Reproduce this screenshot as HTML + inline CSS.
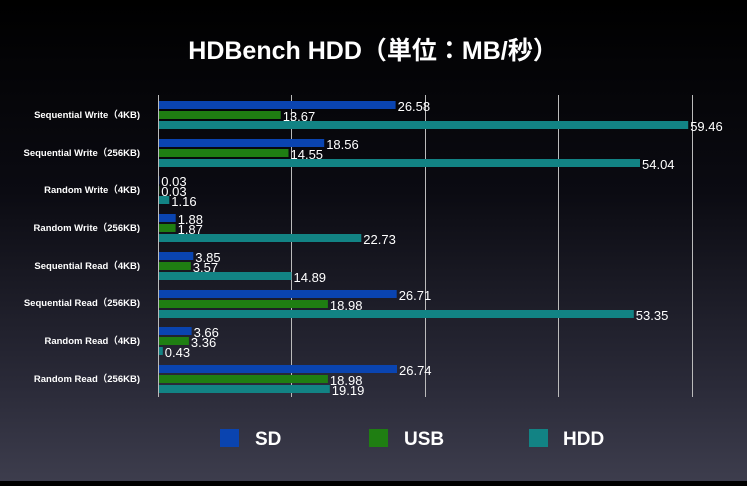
<!DOCTYPE html>
<html><head><meta charset="utf-8"><style>
html,body{margin:0;padding:0;}
body{width:747px;height:481px;overflow:hidden;background:linear-gradient(#000 0%,#0b0b12 40%,#2a2a38 80%,#3d3d4d 100%);}
</style></head><body>
<svg width="747" height="481" xmlns="http://www.w3.org/2000/svg" font-family="'Liberation Sans','Noto Sans CJK JP',sans-serif">
<text x="373" y="59" fill="#fff" font-size="25" font-weight="bold" text-anchor="middle">HDBench HDD（単位：MB/秒）</text>
<g stroke="#bbb" stroke-width="1">
<line x1="158.5" y1="95" x2="158.5" y2="397"/>
<line x1="291.5" y1="95" x2="291.5" y2="397"/>
<line x1="425.5" y1="95" x2="425.5" y2="397"/>
<line x1="558.5" y1="95" x2="558.5" y2="397"/>
<line x1="692.5" y1="95" x2="692.5" y2="397"/>
</g>
<g>
<rect x="159" y="101" width="236.6" height="8" fill="#0a44b0"/><rect x="159" y="111" width="121.7" height="8" fill="#1f7e12"/><rect x="159" y="121" width="529.2" height="8" fill="#128384"/>
<rect x="159" y="139" width="165.2" height="8" fill="#0a44b0"/><rect x="159" y="149" width="129.5" height="8" fill="#1f7e12"/><rect x="159" y="159" width="481" height="8" fill="#128384"/>
<rect x="159" y="176" width="0.3" height="8" fill="#0a44b0"/><rect x="159" y="186" width="0.3" height="8" fill="#1f7e12"/><rect x="159" y="196" width="10.3" height="8" fill="#128384"/>
<rect x="159" y="214" width="16.7" height="8" fill="#0a44b0"/><rect x="159" y="224" width="16.6" height="8" fill="#1f7e12"/><rect x="159" y="234" width="202.3" height="8" fill="#128384"/>
<rect x="159" y="252" width="34.3" height="8" fill="#0a44b0"/><rect x="159" y="262" width="31.8" height="8" fill="#1f7e12"/><rect x="159" y="272" width="132.5" height="8" fill="#128384"/>
<rect x="159" y="290" width="237.7" height="8" fill="#0a44b0"/><rect x="159" y="300" width="168.9" height="8" fill="#1f7e12"/><rect x="159" y="310" width="474.8" height="8" fill="#128384"/>
<rect x="159" y="327" width="32.6" height="8" fill="#0a44b0"/><rect x="159" y="337" width="29.9" height="8" fill="#1f7e12"/><rect x="159" y="347" width="3.8" height="8" fill="#128384"/>
<rect x="159" y="365" width="238" height="8" fill="#0a44b0"/><rect x="159" y="375" width="168.9" height="8" fill="#1f7e12"/><rect x="159" y="385" width="170.8" height="8" fill="#128384"/>
</g>
<g font-size="13" fill="#fff">
<text x="397.6" y="111">26.58</text><text x="282.7" y="121">13.67</text><text x="690.2" y="131">59.46</text>
<text x="326.2" y="149">18.56</text><text x="290.5" y="159">14.55</text><text x="642" y="169">54.04</text>
<text x="161.3" y="186">0.03</text><text x="161.3" y="196">0.03</text><text x="171.3" y="206">1.16</text>
<text x="177.7" y="224">1.88</text><text x="177.6" y="234">1.87</text><text x="363.3" y="244">22.73</text>
<text x="195.3" y="262">3.85</text><text x="192.8" y="272">3.57</text><text x="293.5" y="282">14.89</text>
<text x="398.7" y="300">26.71</text><text x="329.9" y="310">18.98</text><text x="635.8" y="320">53.35</text>
<text x="193.6" y="337">3.66</text><text x="190.9" y="347">3.36</text><text x="164.8" y="357">0.43</text>
<text x="399" y="375">26.74</text><text x="329.9" y="385">18.98</text><text x="331.8" y="395">19.19</text>
</g>
<g font-size="9.5" font-weight="bold" fill="#fff" text-anchor="end">
<text x="140" y="118">Sequential Write（4KB)</text>
<text x="140" y="156">Sequential Write（256KB)</text>
<text x="140" y="193">Random Write（4KB)</text>
<text x="140" y="231">Random Write（256KB)</text>
<text x="140" y="269">Sequential Read（4KB)</text>
<text x="140" y="306">Sequential Read（256KB)</text>
<text x="140" y="344">Random Read（4KB)</text>
<text x="140" y="382">Random Read（256KB)</text>
</g>
<rect x="220" y="429" width="19" height="18" fill="#0a44b0"/>
<rect x="369" y="429" width="19" height="18" fill="#1f7e12"/>
<rect x="529" y="429" width="19" height="18" fill="#128384"/>
<g fill="#fff" font-size="19" font-weight="bold">
<text x="255" y="445">SD</text><text x="404" y="445">USB</text><text x="563" y="445">HDD</text>
</g>
</svg>
</body></html>
